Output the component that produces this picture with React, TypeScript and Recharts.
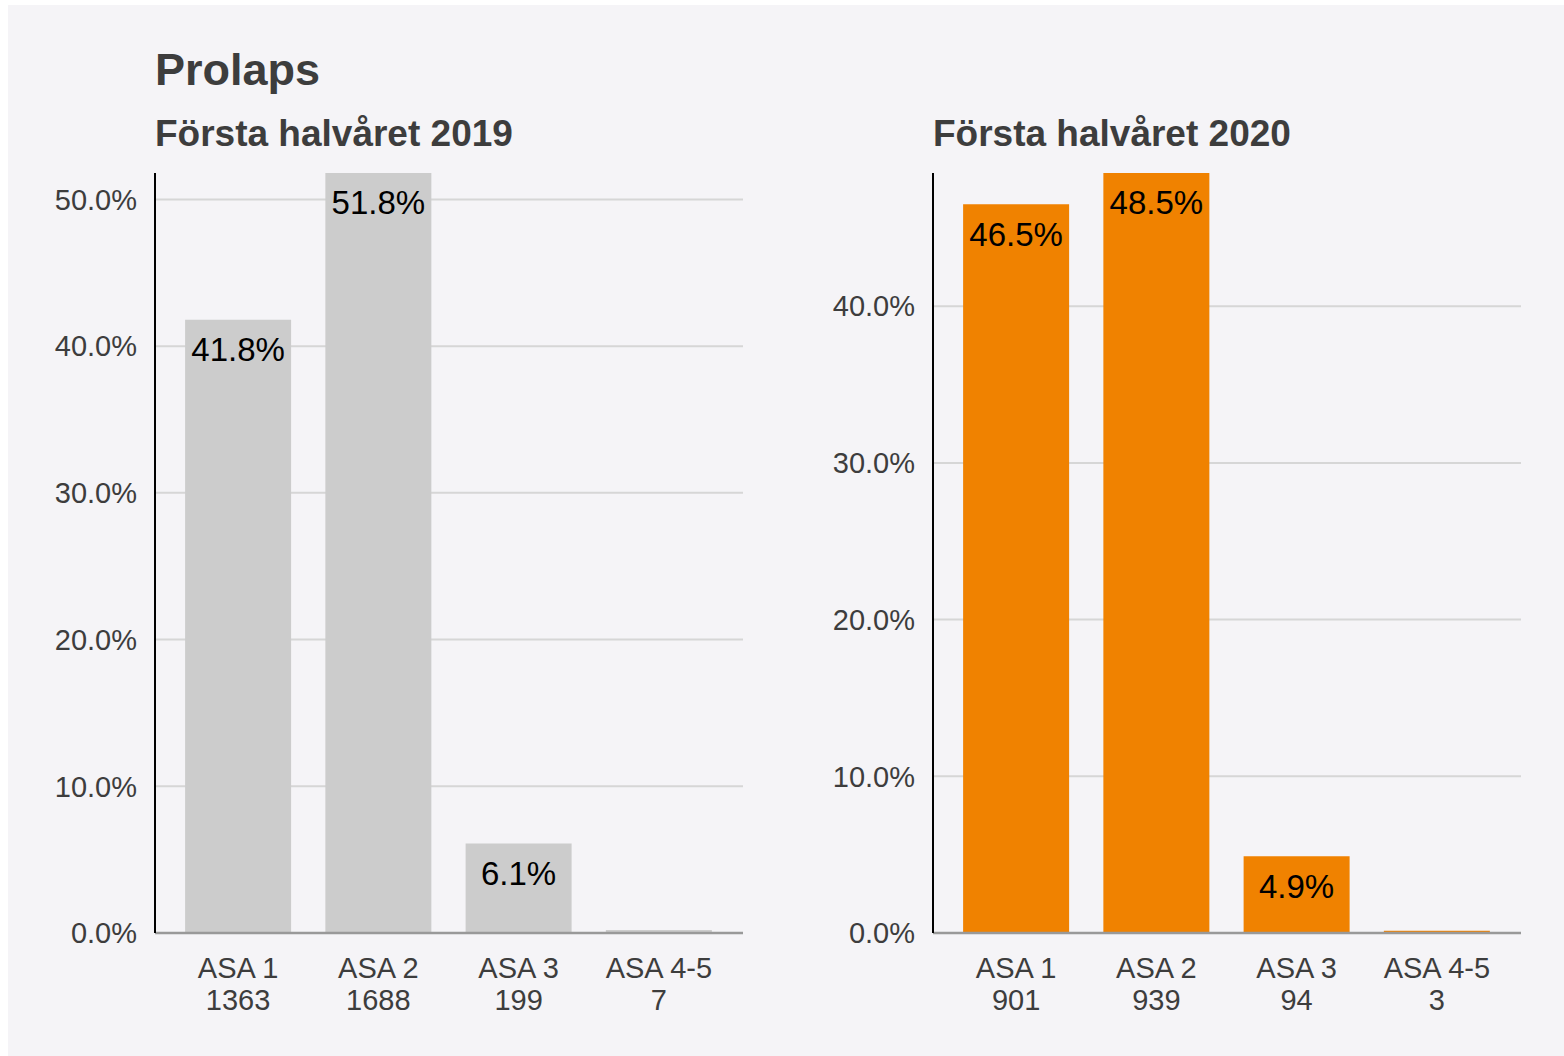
import { Bar, BarChart, CartesianGrid, LabelList, XAxis, YAxis } from 'recharts';

const FONT = '"Liberation Sans", Arial, sans-serif';

const CATEGORIES = ['ASA 1', 'ASA 2', 'ASA 3', 'ASA 4-5'];

const COUNTS_2019 = [1363, 1688, 199, 7];
const PCT_2019 = [41.8, 51.8, 6.1, 0.2];

const COUNTS_2020 = [901, 939, 94, 3];
const PCT_2020 = [46.5, 48.5, 4.9, 0.15];

const Y_TICKS = [0, 10, 20, 30, 40, 50];
const Y_TICKS_2020 = [0, 10, 20, 30, 40];

const COLORS = {
  bg: '#f5f4f7',
  grid: '#d6d6d6',
  gray: '#cccccc',
  orange: '#f08200',
  text: '#3d3d3d',
};

const buildRows = (counts: number[], pct: number[]) =>
  CATEGORIES.map((name, i) => ({ name, n: counts[i], pct: pct[i] }));

const formatPct = (v: number) => `${v.toFixed(1)}%`;

const CategoryTick = ({ x, y, payload, counts }: any) => {
  const idx = CATEGORIES.indexOf(payload.value);
  return (
    <text x={x} y={y} textAnchor="middle" fill={COLORS.text} fontSize={29} fontFamily={FONT}>
      <tspan x={x} dy={45}>{payload.value}</tspan>
      <tspan x={x} dy={32}>{counts[idx]}</tspan>
    </text>
  );
};

interface PanelProps {
  counts: number[];
  pct: number[];
  ticks: number[];
  color: string;
  subtitle: string;
  left: number;
}

function Panel({ counts, pct, ticks, color, subtitle, left }: PanelProps) {
  const rows = buildRows(counts, pct);
  return (
    <div style={{ position: 'absolute', left, top: 0, width: 780, height: 1056 }}>
      <div
        style={{
          position: 'absolute',
          left: 147,
          top: 113,
          fontFamily: FONT,
          fontWeight: 700,
          fontSize: 37,
          color: COLORS.text,
          whiteSpace: 'nowrap',
        }}
      >
        {subtitle}
      </div>
      <BarChart
        width={780}
        height={1056}
        data={rows}
        margin={{ top: 173, right: 45, left: 47, bottom: 33 }}
        barCategoryGap="12.2%"
      >
        <CartesianGrid vertical={false} horizontalValues={ticks} stroke={COLORS.grid} strokeWidth={2} />
        <XAxis
          dataKey="name"
          axisLine={{ stroke: '#999999', strokeWidth: 2.5 }}
          tickLine={false}
          tickSize={0}
          tickMargin={0}
          height={90}
          interval={0}
          padding={{ left: 13, right: 14 }}
          tick={<CategoryTick counts={counts} />}
        />
        <YAxis
          domain={[0, 'dataMax']}
          ticks={ticks}
          tickFormatter={formatPct}
          axisLine={{ stroke: '#000000', strokeWidth: 2 }}
          tickLine={false}
          tickSize={0}
          tickMargin={18}
          width={100}
          tick={{ fill: COLORS.text, fontSize: 29, fontFamily: FONT }}
        />
        <Bar dataKey="pct" fill={color} isAnimationActive={false}>
          <LabelList
            dataKey="pct"
            position="insideTop"
            offset={18}
            fill="#000000"
            fontSize={33}
            fontFamily={FONT}
            formatter={(v: any) => (Number(v) >= 1 ? formatPct(Number(v)) : '')}
          />
        </Bar>
      </BarChart>
    </div>
  );
}

export default function App() {
  return (
    <div style={{ position: 'absolute', left: 0, top: 0, width: 1564, height: 1056, background: '#ffffff' }}>
      <div style={{ position: 'absolute', left: 8, top: 5, right: 0, bottom: 0, background: COLORS.bg }} />
      <div
        style={{
          position: 'absolute',
          left: 155,
          top: 44,
          fontFamily: FONT,
          fontWeight: 700,
          fontSize: 45,
          color: COLORS.text,
        }}
      >
        Prolaps
      </div>
      <Panel counts={COUNTS_2019} pct={PCT_2019} ticks={Y_TICKS} color={COLORS.gray} subtitle="Första halvåret 2019" left={8} />
      <Panel counts={COUNTS_2020} pct={PCT_2020} ticks={Y_TICKS_2020} color={COLORS.orange} subtitle="Första halvåret 2020" left={786} />
    </div>
  );
}
